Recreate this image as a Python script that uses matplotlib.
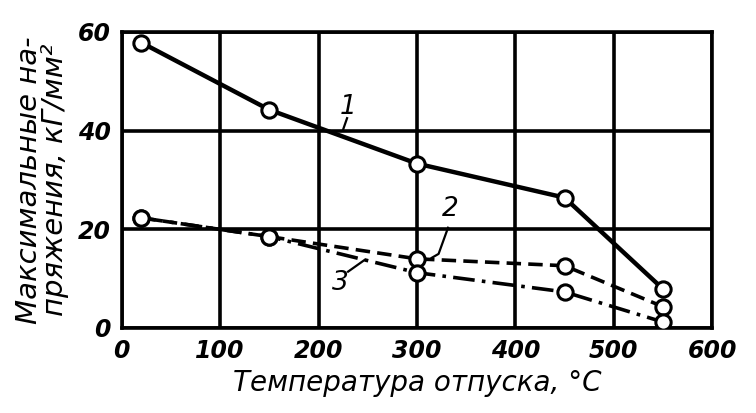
import matplotlib.pyplot as plt

# temperature of tempering, deg C
temp = [20, 150, 300, 450, 550]
curve_1 = [57.8, 44.2, 33.3, 26.4, 7.9]
curve_2 = [22.3, 18.5, 14.0, 12.6, 4.3]
curve_3 = [22.3, 18.5, 11.2, 7.3, 1.2]

xticks = [0, 100, 200, 300, 400, 500, 600]
yticks = [0, 20, 40, 60]

plt.rcParams['font.family'] = 'DejaVu Sans'
plt.rcParams['font.style'] = 'italic'

fig = plt.figure(figsize=(7.56, 4.13), dpi=100)
ax = fig.add_axes([0.161, 0.206, 0.781, 0.717])

mk = dict(marker='o', markersize=11, markerfacecolor='white',
          markeredgecolor='black', markeredgewidth=2.2, color='black', zorder=3)
ax.plot(temp, curve_2, linestyle=(0, (4, 2)), lw=2.6, **mk)
ax.plot(temp, curve_3, linestyle=(0, (6, 2, 1, 2)), lw=2.6, **mk)
ax.plot(temp, curve_1, linestyle='-', lw=3.2, **mk)

ax.set_xlim(0, 600)
ax.set_ylim(0, 60)
ax.set_xticks(xticks)
ax.set_yticks(yticks)
ax.grid(True, color='black', lw=2.6)
for s in ax.spines.values():
    s.set_linewidth(2.6)
ax.tick_params(length=0, labelsize=17, pad=8)
for lab in ax.get_xticklabels() + ax.get_yticklabels():
    lab.set_fontweight('bold')

ax.set_xlabel('Температура отпуска, °С', fontsize=20, labelpad=4)
ax.set_ylabel('Максимальные на-\nпряжения, кГ/мм²', fontsize=21,
              labelpad=6, linespacing=0.9)

# curve labels with leaders
ax.text(230, 44.8, '1', fontsize=19, ha='center', va='center')
ax.plot([229, 225], [42.5, 40.2], color='black', lw=1.6)
ax.text(334, 24, '2', fontsize=19, ha='center', va='center')
ax.plot([331.6, 322, 315], [20.3, 15, 14.2], color='black', lw=1.6)
ax.text(222, 9.1, '3', fontsize=19, ha='center', va='center')
ax.plot([230, 247], [11.4, 13.8], color='black', lw=1.6)

fig.savefig('out.png', dpi=100)
